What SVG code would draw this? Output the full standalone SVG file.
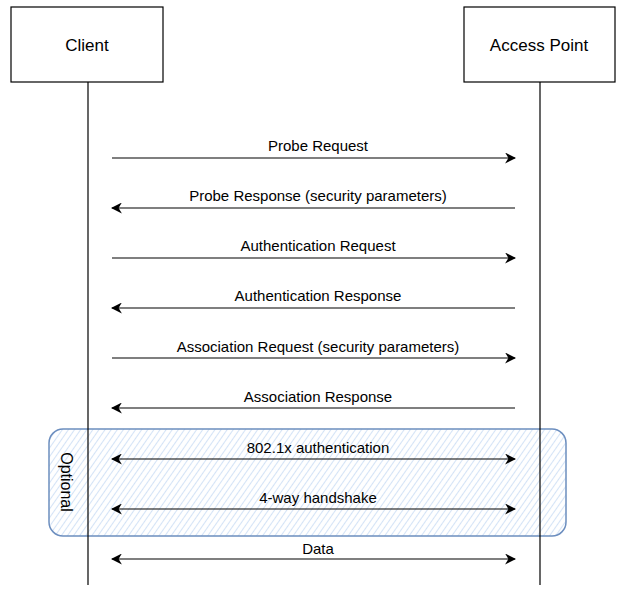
<svg xmlns="http://www.w3.org/2000/svg" width="624" height="592" viewBox="0 0 624 592">
<defs>
<style>
text{font-family:"Liberation Sans",Arial,sans-serif;font-size:15px;fill:#000}
.box{fill:#fff;stroke:#000;stroke-width:1.2}
.box-lbl{font-size:17px;text-anchor:middle}
.life{stroke:#000;stroke-width:1.2;fill:none}
.msg{stroke:#000;stroke-width:1.2;fill:none}
.lbl{text-anchor:middle}
</style>
<marker id="ah" viewBox="0 0 10 10" refX="9" refY="5" markerWidth="11" markerHeight="11" markerUnits="userSpaceOnUse" orient="auto-start-reverse">
<path d="M0,0 L10,5 L0,10 L3,5 Z" fill="#000"/>
</marker>
<pattern id="hatch" patternUnits="userSpaceOnUse" width="5" height="5" patternTransform="rotate(-55)">
<line x1="0" y1="2.5" x2="5" y2="2.5" stroke="#d4e3f6" stroke-width="1.1"/>
</pattern>
</defs>
<g id="optional">
<rect x="49" y="429" width="517" height="107" rx="14" fill="url(#hatch)" stroke="#6c8ebf" stroke-width="1.5"/>
<text x="66" y="482" text-anchor="middle" transform="rotate(90 66 482)" dy="5" style="font-size:16px">Optional</text>
</g>
<g id="client">
<rect class="box" x="11" y="7" width="152" height="75"/>
<text class="box-lbl" x="87" y="51">Client</text>
</g>
<g id="access-point">
<rect class="box" x="464" y="7" width="151" height="75"/>
<text class="box-lbl" x="539" y="51">Access Point</text>
</g>
<g id="connectors">
<line class="life" x1="88" y1="82" x2="88" y2="585"/>
<line class="life" x1="540" y1="82" x2="540" y2="585"/>
<line class="msg" x1="112" y1="158" x2="515" y2="158" marker-end="url(#ah)"/>
<line class="msg" x1="515" y1="208" x2="112" y2="208" marker-end="url(#ah)"/>
<line class="msg" x1="112" y1="258" x2="515" y2="258" marker-end="url(#ah)"/>
<line class="msg" x1="515" y1="308" x2="112" y2="308" marker-end="url(#ah)"/>
<line class="msg" x1="112" y1="358" x2="515" y2="358" marker-end="url(#ah)"/>
<line class="msg" x1="515" y1="408" x2="112" y2="408" marker-end="url(#ah)"/>
<line class="msg" x1="112" y1="459" x2="515" y2="459" marker-start="url(#ah)" marker-end="url(#ah)"/>
<line class="msg" x1="112" y1="509" x2="515" y2="509" marker-start="url(#ah)" marker-end="url(#ah)"/>
<line class="msg" x1="112" y1="559" x2="515" y2="559" marker-start="url(#ah)" marker-end="url(#ah)"/>
</g>
<g id="labels">
<text class="lbl" x="318" y="151">Probe Request</text>
<text class="lbl" x="318" y="201">Probe Response (security parameters)</text>
<text class="lbl" x="318" y="251">Authentication Request</text>
<text class="lbl" x="318" y="301">Authentication Response</text>
<text class="lbl" x="318" y="352">Association Request (security parameters)</text>
<text class="lbl" x="318" y="402">Association Response</text>
<text class="lbl" x="318" y="453">802.1x authentication</text>
<text class="lbl" x="318" y="503">4-way handshake</text>
<text class="lbl" x="318" y="554">Data</text>
</g>
</svg>
